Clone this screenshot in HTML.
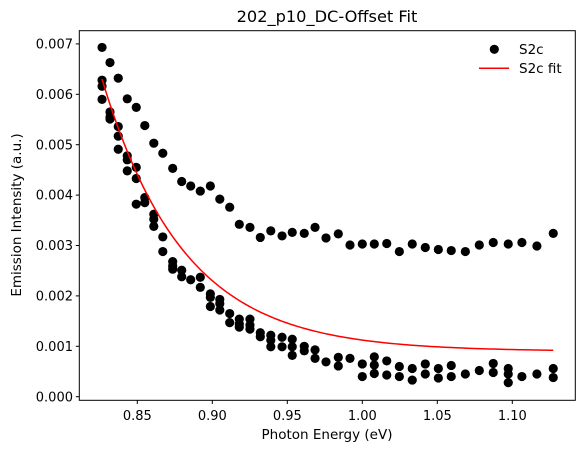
<!DOCTYPE html>
<html><head><meta charset="utf-8"><style>
body{margin:0;background:#fff}
svg{display:block;font-family:"DejaVu Sans","Liberation Sans",sans-serif}
</style></head><body>
<svg id="chart" width="585" height="453" viewBox="0 0 585 453">
<rect width="585" height="453" fill="#fff"/>
<text x="327" y="22" text-anchor="middle" font-size="16.2">202_p10_DC-Offset Fit</text>
<g id="plot"></g>
<rect x="79.3" y="30.7" width="496" height="369.6" fill="none" stroke="#000" stroke-width="1"/>
<g id="xt"></g><g id="yt"></g>
<text x="327" y="439" text-anchor="middle" font-size="13.5">Photon Energy (eV)</text>
<text transform="translate(21,215) rotate(-90)" text-anchor="middle" font-size="13.5">Emission Intensity (a.u.)</text>
<g>
<circle cx="494.3" cy="49.3" r="4.6" fill="#000"/>
<text x="519" y="54" font-size="13.5">S2c</text>
<line x1="479" x2="509" y1="68.3" y2="68.3" stroke="red" stroke-width="1.5"/>
<text x="519" y="73" font-size="13.5">S2c fit</text>
</g>
</svg>
<script>
const xVals=[0.8265,0.8318,0.8373,0.8433,0.8493,0.855,0.861,0.867,0.8736,0.8796,0.8856,0.892,0.8987,0.905,0.9116,0.918,0.9251,0.932,0.939,0.9465,0.9533,0.9613,0.9685,0.9758,0.984,0.9918,1.0,1.008,1.0163,1.0247,1.0333,1.042,1.0507,1.0593,1.0687,1.078,1.0873,1.0973,1.1064,1.1164,1.1273];
const upper=[6.93,6.63,6.32,5.91,5.74,5.38,5.03,4.83,4.53,4.27,4.18,4.08,4.18,3.92,3.76,3.42,3.36,3.16,3.29,3.19,3.26,3.24,3.36,3.15,3.23,3.01,3.03,3.03,3.04,2.88,3.03,2.96,2.92,2.90,2.88,3.01,3.06,3.03,3.06,2.99,3.24];
const lowerA=[6.28,5.65,5.36,4.78,4.55,3.95,3.62,3.17,2.68,2.51,2.32,2.37,2.04,1.93,1.65,1.54,1.54,1.27,1.22,1.18,1.14,1.0,0.93,0.69,0.78,0.76,0.65,0.79,0.71,0.60,0.56,0.65,0.56,0.62,0.45,0.52,0.66,0.56,0.40,0.45,0.56];
const lowerB=[6.16,5.55,5.17,4.70,4.33,3.85,3.52,2.88,2.59,2.38,null,2.17,1.97,1.85,1.47,1.44,1.42,1.19,1.12,0.99,0.99,0.91,0.76,null,0.61,null,0.40,0.63,0.43,0.40,0.33,0.45,0.37,0.40,null,null,0.48,0.45,null,null,0.38];
const lowerC=[5.90,5.51,4.91,4.48,3.82,null,3.38,null,2.53,null,null,null,1.79,1.72,null,1.38,1.34,null,0.99,null,0.82,null,null,null,null,null,null,0.46,null,null,null,null,null,null,null,null,null,0.28,null,null,null];
const fitParams=[5.4,0.0545,0.9];
const xTicks=[0.85,0.90,0.95,1.00,1.05,1.10];
const xTickLabels=["0.85","0.90","0.95","1.00","1.05","1.10"];
const yTicks=[0,1,2,3,4,5,6,7];
const yTickLabels=["0.000","0.001","0.002","0.003","0.004","0.005","0.006","0.007"];
const NS="http://www.w3.org/2000/svg";
function X(v){return 137.3+(v-0.85)*1500;}
function Y(v){return 396.7-v*50.4;}
const plot=document.getElementById('plot');
function mk(tag,attrs,parent){const e=document.createElementNS(NS,tag);for(const k in attrs)e.setAttribute(k,attrs[k]);parent.appendChild(e);return e;}
let d="";
for(let i=0;i<=120;i++){const x=xVals[0]+(xVals[xVals.length-1]-xVals[0])*i/120;const y=fitParams[2]+fitParams[0]*Math.exp(-(x-xVals[0])/fitParams[1]);d+=(i?"L":"M")+X(x).toFixed(2)+","+Y(y).toFixed(2);}
[upper,lowerA,lowerB,lowerC].forEach((s,si)=>{s.forEach((v,i)=>{if(v==null)return;
const c=mk('circle',{cx:X(xVals[i]),cy:Y(v),r:4.6,fill:'#000'},plot);

});});
const fl=mk('path',{d:d,fill:'none',stroke:'red','stroke-width':1.5},plot);


const xt=document.getElementById('xt');
xTicks.forEach((t,i)=>{const l=mk('line',{x1:X(t),x2:X(t),y1:400.3,y2:404,stroke:'#000'},xt);


const tx=mk('text',{x:X(t),y:420,'text-anchor':'middle','font-size':13},xt);tx.textContent=xTickLabels[i];

});
const yt=document.getElementById('yt');
yTicks.forEach((t,i)=>{const l=mk('line',{x1:75.8,x2:79.3,y1:Y(t),y2:Y(t),stroke:'#000'},yt);


const tx=mk('text',{x:73,y:Y(t)+4.6,'text-anchor':'end','font-size':13},yt);tx.textContent=yTickLabels[i];

});
</script>
</body></html>
